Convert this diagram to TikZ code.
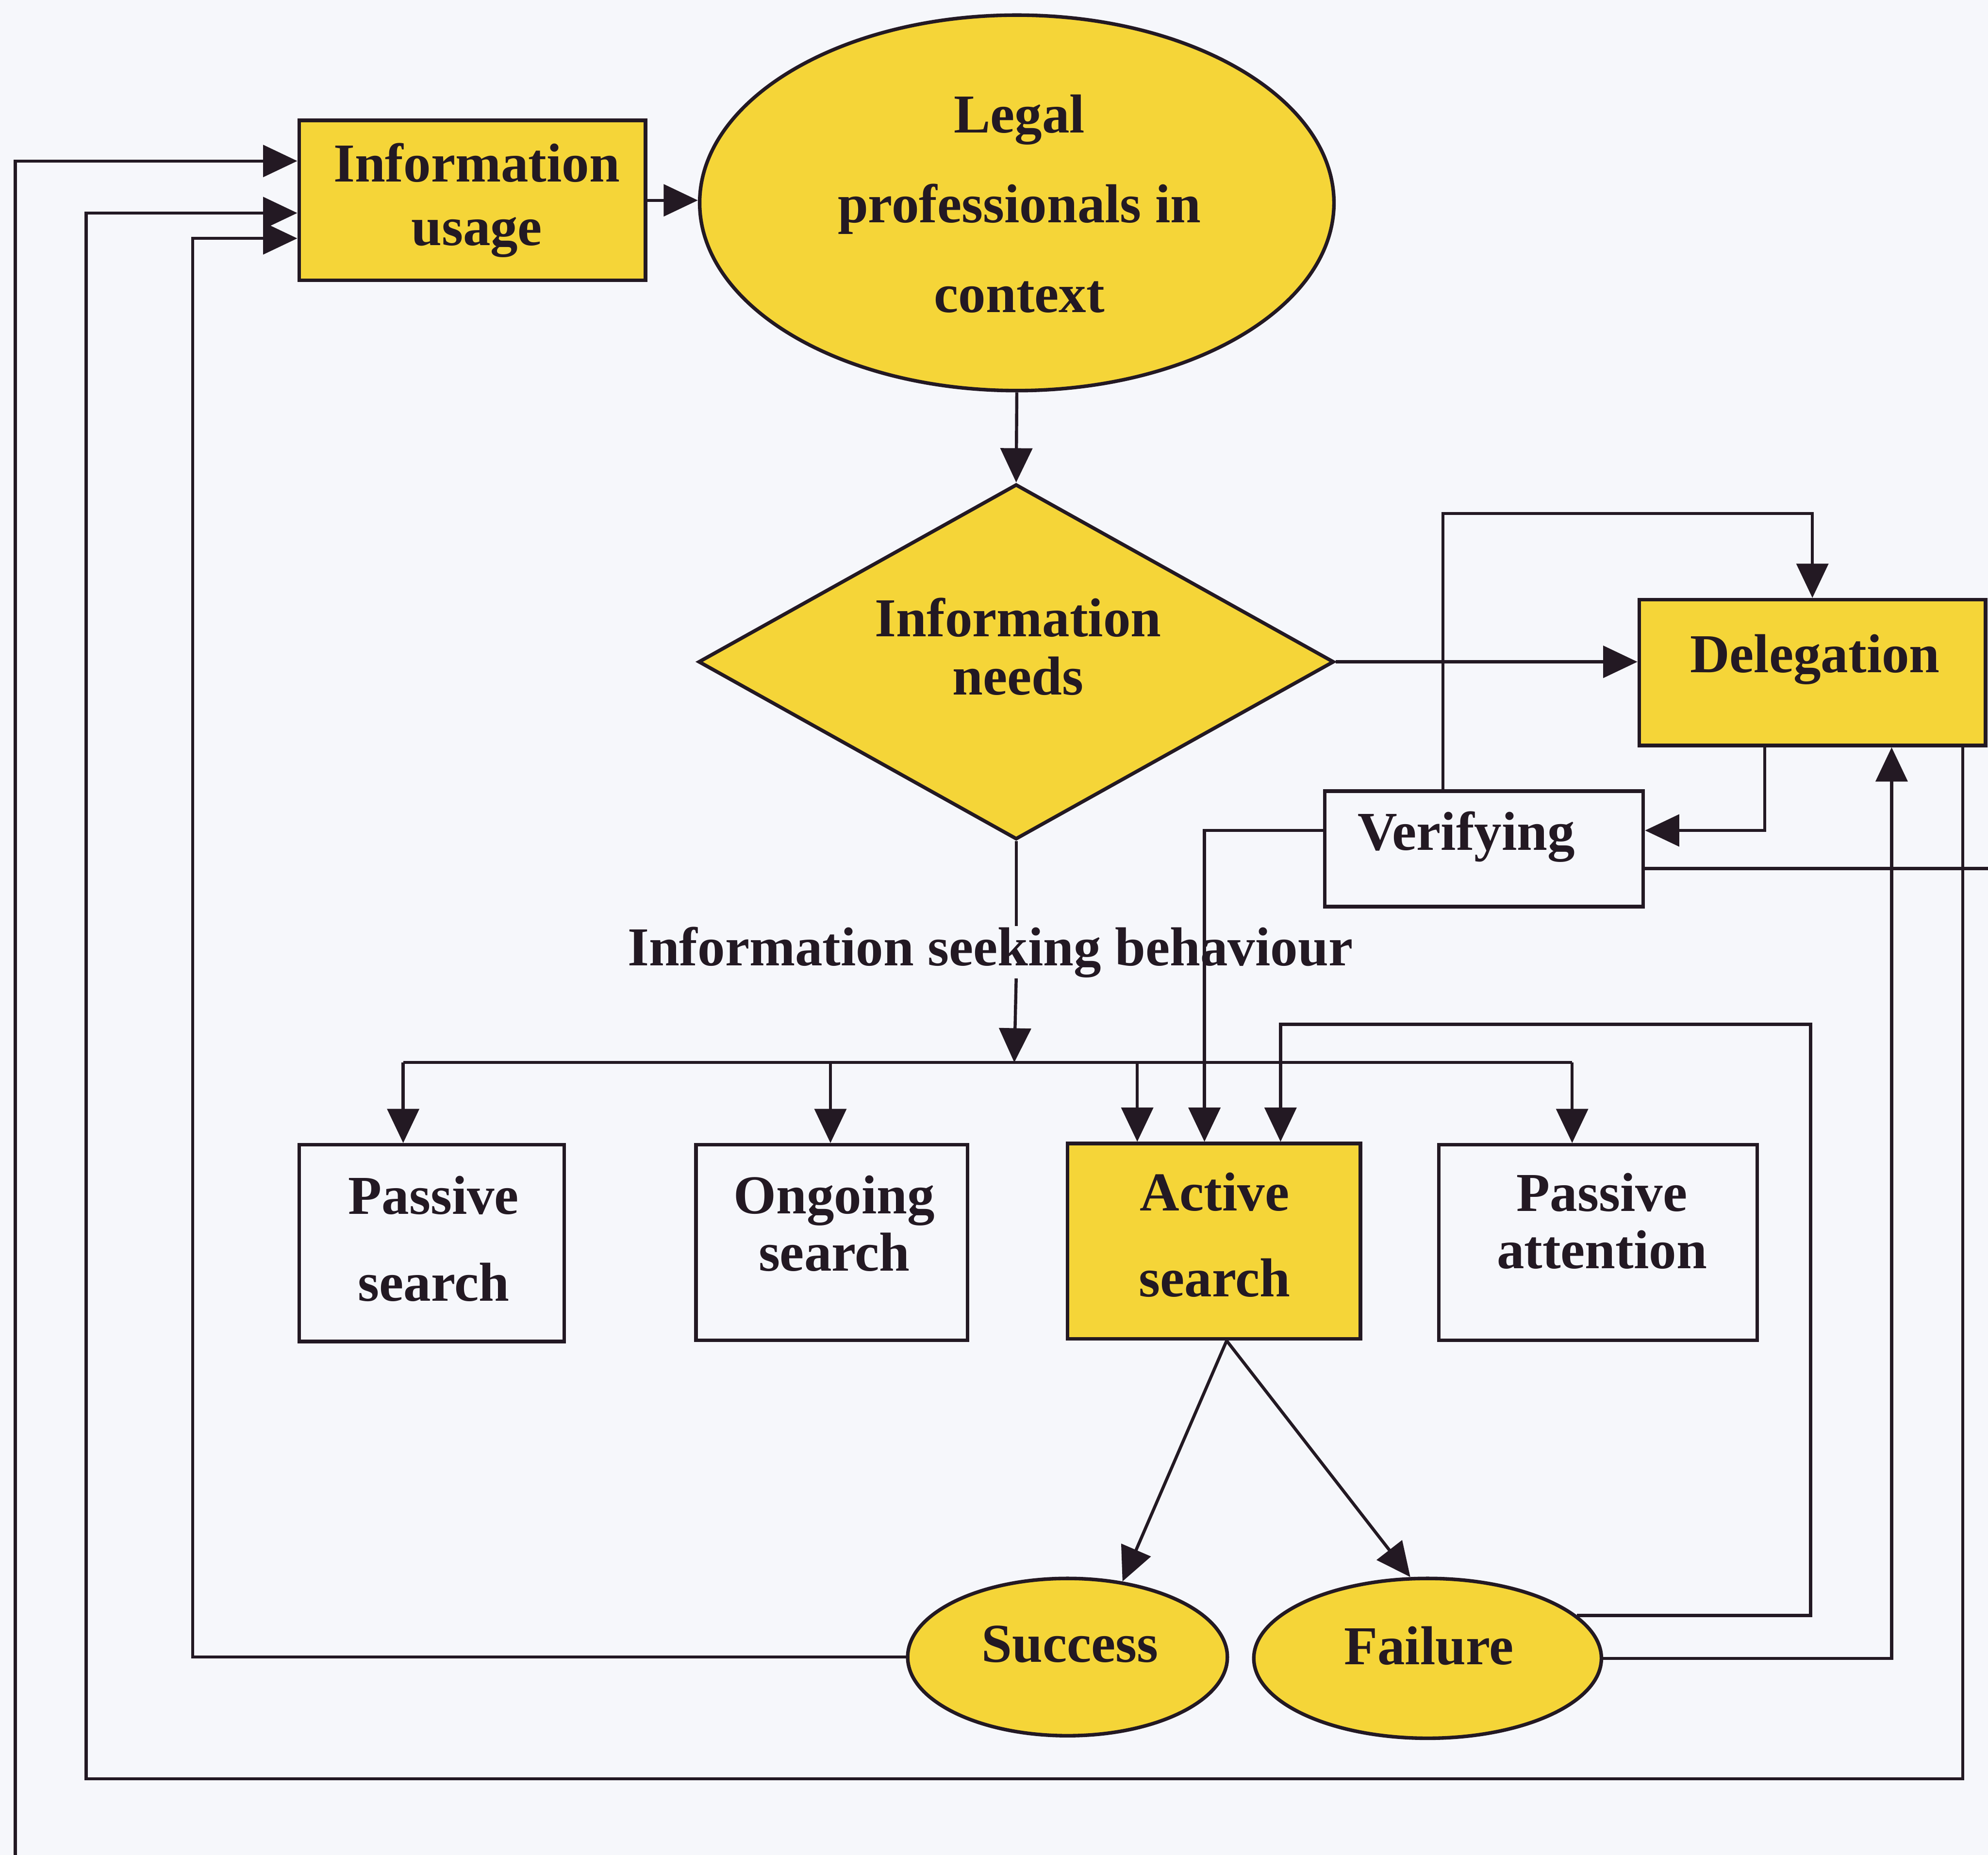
\documentclass[tikz,border=0pt]{standalone}
\usepackage{fontspec}
\setmainfont{Liberation Serif}
\usetikzlibrary{arrows.meta,shapes.geometric}

\definecolor{paper}{RGB}{246,247,251}
\definecolor{gold}{RGB}{245,213,56}
\definecolor{ink}{RGB}{35,25,35}

\begin{document}
\begin{tikzpicture}[x=0.01cm, y=-0.01cm,
  outline/.style={draw=ink, line width=0.8pt},
  goldbox/.style={outline, rectangle, fill=gold, inner sep=0pt},
  plainbox/.style={outline, rectangle, fill=paper, inner sep=0pt},
  goldoval/.style={outline, ellipse, fill=gold, inner sep=0pt},
  golddiamond/.style={outline, diamond, fill=gold, inner sep=0pt},
  words/.style={font=\bfseries\fontsize{12.3}{#1}\selectfont, align=center, inner sep=0pt, text=ink},
  words/.default=14pt,
  link/.style={draw=ink, line width=0.7pt},
  flow/.style={link, -{Triangle[length=0.27cm,width=0.25cm]}},
]
% page background and fixed frame
\fill[paper] (0,0) rectangle (1568,1463);
\useasboundingbox (0,0) rectangle (1568,1463);

% ---- shapes ----
\node[goldbox, minimum width=2.73cm, minimum height=1.26cm] (usage) at (372.5,158) {};
\node[goldoval, minimum width=5.0cm, minimum height=2.96cm] (legal) at (802,160) {};
\node[golddiamond, minimum width=5.01cm, minimum height=2.80cm] (needs) at (801.5,522) {};
\node[goldbox, minimum width=2.73cm, minimum height=1.15cm] (deleg) at (1429.5,530.5) {};
\node[plainbox, minimum width=2.51cm, minimum height=0.91cm] (verify) at (1170.5,669.5) {};
\node[plainbox, minimum width=2.09cm, minimum height=1.55cm] (psearch) at (340.5,980.5) {};
\node[plainbox, minimum width=2.14cm, minimum height=1.54cm] (ongoing) at (656,980) {};
\node[goldbox, minimum width=2.31cm, minimum height=1.54cm] (active) at (957.5,979) {};
\node[plainbox, minimum width=2.51cm, minimum height=1.54cm] (pattn) at (1260.5,980) {};
\node[goldoval, minimum width=2.52cm, minimum height=1.24cm] (success) at (842,1307) {};
\node[goldoval, minimum width=2.74cm, minimum height=1.26cm] (failure) at (1126,1308) {};

% ---- texts ----
\node[words=14.2pt] (usage-t) at (376,158) {Information\\usage};
\node[words=20.1pt] (legal-t) at (804,160.7) {Legal\\professionals in\\context};
\node[words=13.1pt] (needs-t) at (803,510) {Information\\needs};
\node[words] (deleg-t) at (1431.5,520) {Delegation};
\node[words] (verify-t) at (1156.5,660) {Verifying};
\node[words] (seek) at (781,751) {Information seeking behaviour};
\node[words=19.5pt] (psearch-t) at (342,977) {Passive\\search};
\node[words=12.8pt] (ongoing-t) at (658,965) {Ongoing\\search};
\node[words=19.3pt] (active-t) at (958,974) {Active\\search};
\node[words=12.8pt] (pattn-t) at (1263.5,963) {Passive\\attention};
\node[words] (success-t) at (844,1297) {Success};
\node[words] (failure-t) at (1127,1298) {Failure};

% ---- routing points ----
\coordinate (tap1) at (318,838);
\coordinate (tap2) at (655,838);
\coordinate (tap3) at (897,838);
\coordinate (tap4) at (1240,838);
\coordinate (busin) at (800,838);
\coordinate (vtop) at (1138,405);
\coordinate (dback) at (1392,655);
\coordinate (vleft) at (950,655);
\coordinate (vout) at (1568,685);
\coordinate (loopA) at (1548,1403);
\coordinate (loopB) at (68,1403);
\coordinate (outer) at (12,1463);
\coordinate (succL) at (152,1307);
\coordinate (fcol) at (1492,1305);
\coordinate (fb1) at (1428,808);
\coordinate (fb2) at (1010,808);

% ---- main chain ----
\draw[flow] (usage.east) -- (usage.east -| legal.west);
\draw[flow] (legal.south) -- (needs.north);
\draw[flow] (needs.east) -- (needs.east -| deleg.west);
\draw[link] (needs.south) -- (needs.south |- seek.north);
\draw[flow] (needs.south |- seek.south) -- (busin);

% ---- search branches ----
\draw[link] (tap1) -- (tap4);
\draw[flow] (tap1) -- (tap1 |- psearch.north);
\draw[flow] (tap2) -- (tap2 |- ongoing.north);
\draw[flow] (tap3) -- (tap3 |- active.north);
\draw[flow] (tap4) -- (tap4 |- pattn.north);

% ---- delegation / verifying ----
\draw[flow] (vtop |- verify.north) -- (vtop) -| (deleg.north);
\draw[flow] (dback |- deleg.south) -- (dback) -- (dback -| verify.east);
\draw[flow] (vleft -| verify.west) -- (vleft) -- (vleft |- active.north);
\draw[link] (vout -| verify.east) -- (vout);

% ---- outcomes ----
\draw[flow] ([xshift=0.1cm]active.south) -- (success.54);
\draw[flow] ([xshift=0.1cm]active.south) -- (failure.102);
\draw[flow] (failure.16) -| (fb1) -- (fb2) -- (fb2 |- active.north);
\draw[flow] (failure.east) -| (fcol |- deleg.south);

% ---- feedback into information usage ----
\draw[flow] (success.west) -- (succL) |- ([yshift=-0.3cm]usage.west);
\draw[flow] (loopA |- deleg.south) -- (loopA) -- (loopB) |- ([yshift=-0.1cm]usage.west);
\draw[flow] (outer) |- ([yshift=0.31cm]usage.west);
\end{tikzpicture}
\end{document}
